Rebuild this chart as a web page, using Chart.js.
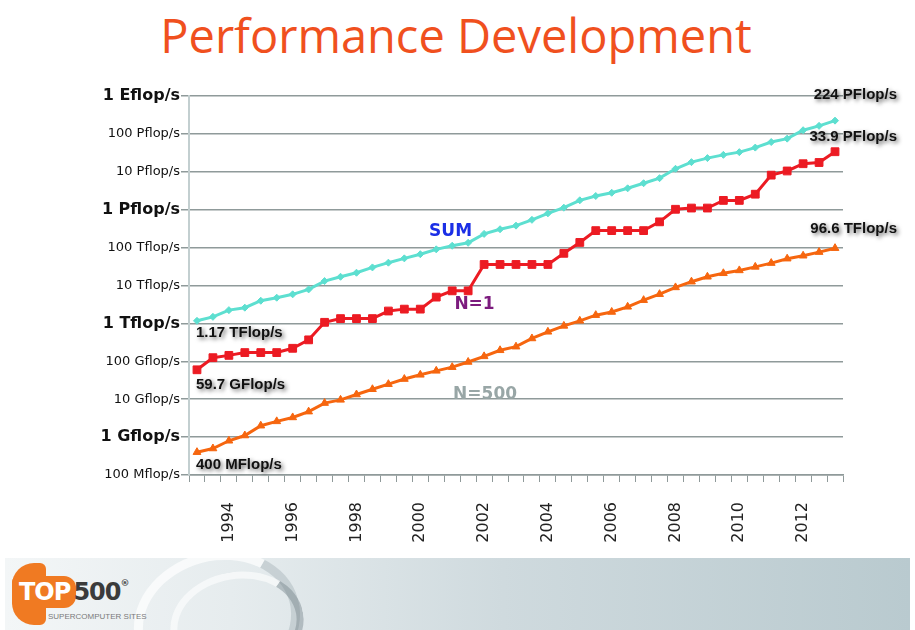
<!DOCTYPE html>
<html>
<head>
<meta charset="utf-8">
<title>Performance Development</title>
<script src="https://cdn.jsdelivr.net/npm/chart.js@4.4.1/dist/chart.umd.min.js"></script>
<style>
  body { margin: 0; width: 915px; height: 630px; background: #fff; overflow: hidden; position: relative; }
  #baslik { position: absolute; left: 0; top: 6px; width: 912px; margin: 0; text-align: center;
            font-family: "Open Sans", sans-serif; font-weight: 400; font-size: 47px; line-height: 58px; color: #f0501e; }
  #kutu { position: absolute; left: 0; top: 0; width: 915px; height: 555px; }
  #bant { position: absolute; left: 5px; top: 558px; width: 905px; height: 72px;
          background: linear-gradient(to right, #f3f6f7 0%, #e6ecee 25%, #cfdade 55%, #b9cacf 100%); overflow: hidden; }
  #girdap { position: absolute; left: 128px; top: -6px; width: 150px; height: 120px; border-radius: 50%;
            border: 9px solid rgba(255,255,255,0.7); border-right-color: rgba(150,165,170,0.35);
            border-bottom-color: transparent; transform: rotate(-15deg); }
  #girdap2 { position: absolute; left: 165px; top: 14px; width: 120px; height: 90px; border-radius: 50%;
             border: 7px solid rgba(255,255,255,0.6); border-right-color: rgba(110,125,130,0.4);
             border-bottom-color: transparent; transform: rotate(-10deg); }
  #turuncu { position: absolute; left: 7px; top: 5px; width: 34px; height: 62px; background: #f07a22;
             border-radius: 22px 6px 6px 22px; }
  #turuncu2 { position: absolute; left: 7px; top: 18px; width: 64px; height: 32px; background: #f07a22;
              border-radius: 6px 12px 12px 6px; }
  #logo { position: absolute; left: 14px; top: 20px; font-family: "DejaVu Sans", sans-serif; font-weight: bold; font-size: 24px; letter-spacing: -1px; }
  #logo .top { color: #fff; }
  #logo .bes { color: #3b3b3b; margin-left: 3px; }
  #logo sup { font-size: 9px; color: #444; vertical-align: top; }
  #alt { position: absolute; left: 43px; top: 54px; font-family: "Liberation Sans Narrow", "Liberation Sans", sans-serif; font-size: 8px; color: #7a7a7a; }
</style>
</head>
<body>
<h1 id="baslik">Performance Development</h1>
<div id="kutu"><canvas id="grafik" width="915" height="555"></canvas></div>
<div id="bant">
  <div id="girdap"></div>
  <div id="girdap2"></div>
  <div id="turuncu"></div>
  <div id="turuncu2"></div>
  <div id="logo"><span class="top">TOP</span><span class="bes">500</span><sup>®</sup></div>
  <div id="alt">SUPERCOMPUTER SITES</div>
</div>
<script>
// TOP500 lists, June 1993 - June 2013 (values in GFlop/s)
const lists = [
  "06/1993", "11/1993", "06/1994", "11/1994", "06/1995", "11/1995", "06/1996", "11/1996",
  "06/1997", "11/1997", "06/1998", "11/1998", "06/1999", "11/1999", "06/2000", "11/2000",
  "06/2001", "11/2001", "06/2002", "11/2002", "06/2003", "11/2003", "06/2004", "11/2004",
  "06/2005", "11/2005", "06/2006", "11/2006", "06/2007", "11/2007", "06/2008", "11/2008",
  "06/2009", "11/2009", "06/2010", "11/2010", "06/2011", "11/2011", "06/2012", "11/2012",
  "06/2013"
];
const sumValues = [
  1170, 1490, 2240, 2600, 3960, 4760, 5850, 7900, 13100, 17000,
  21700, 30000, 40000, 52000, 67000, 90000, 112000, 134000, 230000, 305000,
  380000, 540000, 800000, 1130000, 1770000, 2300000, 2800000, 3670000, 5000000, 6800000,
  12000000, 18000000, 23000000, 28000000, 33000000, 43500000, 61000000, 75000000, 125000000, 163000000,
  224000000
];
const n1Values = [
  59.7, 124.5, 143.4, 170, 170, 170, 220.4, 368.2, 1068, 1338,
  1338, 1338, 2121, 2379, 2379, 4938, 7226, 7226, 35860, 35860,
  35860, 35860, 35860, 70720, 136800, 280600, 280600, 280600, 280600, 478200,
  1026000, 1105000, 1105000, 1759000, 1759000, 2566000, 8162000, 10510000, 16324000, 17590000,
  33862700
];
const n500Values = [
  0.4, 0.5, 0.8, 1.1, 2.0, 2.6, 3.3, 4.7, 7.9, 9.6,
  13.3, 18.3, 24.9, 34, 44, 56, 70, 96, 135, 195,
  243, 400, 600, 860, 1170, 1650, 2000, 2740, 4100, 5900,
  8900, 12600, 17000, 21000, 25000, 31000, 39000, 51000, 61000, 76000,
  96600
];
const yearLabels = ["1994", "1996", "1998", "2000", "2002", "2004", "2006", "2008", "2010", "2012"];
const yTickValues = [0.1, 1, 10, 100, 1e3, 1e4, 1e5, 1e6, 1e7, 1e8, 1e9];
const yTickLabels = ["100 Mflop/s", "1 Gflop/s", "10 Gflop/s", "100 Gflop/s", "1 Tflop/s", "10 Tflop/s",
                     "100 Tflop/s", "1 Pflop/s", "10 Pflop/s", "100 Pflop/s", "1 Eflop/s"];

// labels written on the chart: [text, series, list index, value]
const valueNotes = [
  ["1.17 TFlop/s", 2, 0, sumValues[0]],
  ["59.7 GFlop/s", 1, 0, n1Values[0]],
  ["400 MFlop/s", 0, 0, n500Values[0]],
  ["224 PFlop/s", 2, 40, sumValues[40]],
  ["33.9 PFlop/s", 1, 40, n1Values[40]],
  ["96.6 TFlop/s", 0, 40, n500Values[40]]
];
const seriesNotes = [
  ["SUM", 15.9, 2.7e5, "#1b2fe6"],
  ["N=1", 17.4, 3.2e3, "#7c1b7e"],
  ["N=500", 18.06, 13, "#98a6a6"]
];

// note offsets (px) from the point they belong to
const noteShift = { left: [-1, 12, 15, 13], right: [62, -26, -15, -19] };

const notesPlugin = {
  id: "notlar",
  afterDraw(chart) {
    const ctx = chart.ctx;
    const x = chart.scales.x, y = chart.scales.y;
    ctx.save();
    ctx.textBaseline = "middle";
    ctx.font = "bold 15px 'Liberation Sans', sans-serif";
    ctx.fillStyle = "#111";
    ctx.shadowColor = "rgba(0,0,0,0.6)";
    ctx.shadowBlur = 4;
    ctx.shadowOffsetX = 2;
    ctx.shadowOffsetY = 2;
    valueNotes.forEach(([text, series, idx, val]) => {
      const px = x.getPixelForValue(idx);
      const py = y.getPixelForValue(val);
      const k = series === 2 ? 1 : series === 1 ? 2 : 3;
      if (idx === 0) {
        ctx.textAlign = "left";
        ctx.fillText(text, px + noteShift.left[0], py + noteShift.left[k]);
      } else {
        ctx.textAlign = "right";
        ctx.fillText(text, px + noteShift.right[0], py + noteShift.right[k]);
      }
    });
    ctx.shadowColor = "transparent";
    ctx.textAlign = "center";
    ctx.font = "bold 17px 'DejaVu Sans', sans-serif";
    seriesNotes.forEach(([text, idx, val, color]) => {
      ctx.fillStyle = color;
      ctx.fillText(text, x.getPixelForValue(idx), y.getPixelForValue(val));
    });
    ctx.restore();
  }
};

new Chart(document.getElementById("grafik"), {
  type: "line",
  data: {
    labels: lists,
    datasets: [
      { label: "N=500", data: n500Values, borderColor: "#f6660f", backgroundColor: "#f6660f",
        borderWidth: 3, pointStyle: "triangle", pointRadius: 4.5, pointBorderWidth: 1 },
      { label: "N=1", data: n1Values, borderColor: "#ec1b23", backgroundColor: "#ec1b23",
        borderWidth: 3, pointStyle: "rect", pointRadius: 5.5, pointBorderWidth: 1 },
      { label: "SUM", data: sumValues, borderColor: "#5ddfd0", backgroundColor: "#5ddfd0",
        borderWidth: 3, pointStyle: "rectRot", pointRadius: 3.5, pointBorderWidth: 1 }
    ]
  },
  options: {
    responsive: false,
    animation: false,
    layout: { padding: { left: 0, right: 72, top: 96, bottom: 0 } },
    plugins: { legend: { display: false }, tooltip: { enabled: false } },
    elements: { line: { tension: 0 } },
    scales: {
      x: {
        offset: true,
        afterFit: (s) => { s.height = 80; },
        grid: { offset: true, drawOnChartArea: false, color: "#8f9a9a", tickLength: 7, lineWidth: 1 },
        border: { color: "#8f9a9a", width: 1.5 },
        ticks: {
          autoSkip: false, maxRotation: 90, minRotation: 90, padding: 20,
          color: "#222", font: { family: "'DejaVu Sans', sans-serif", size: 16 },
          callback: (v, i) => (i % 4 === 2 ? yearLabels[(i - 2) / 4] : "")
        }
      },
      y: {
        type: "logarithmic",
        min: 0.1, max: 1e9,
        afterFit: (s) => { s.width = 189; },
        afterBuildTicks: (s) => { s.ticks = yTickValues.map(v => ({ value: v })); },
        grid: { color: "#8f9a9a", lineWidth: 1.5, tickLength: 8 },
        border: { color: "#c3cfd0", width: 2 },
        ticks: {
          padding: 1, color: "#111",
          font: (c) => {
            const lbl = yTickLabels[c.index] || "";
            return lbl.startsWith("1 ")
              ? { family: "'DejaVu Sans', sans-serif", size: 16, weight: "bold" }
              : { family: "'DejaVu Sans', sans-serif", size: 13 };
          },
          callback: (v, i) => yTickLabels[i]
        }
      }
    }
  },
  plugins: [notesPlugin]
});
</script>
</body>
</html>
